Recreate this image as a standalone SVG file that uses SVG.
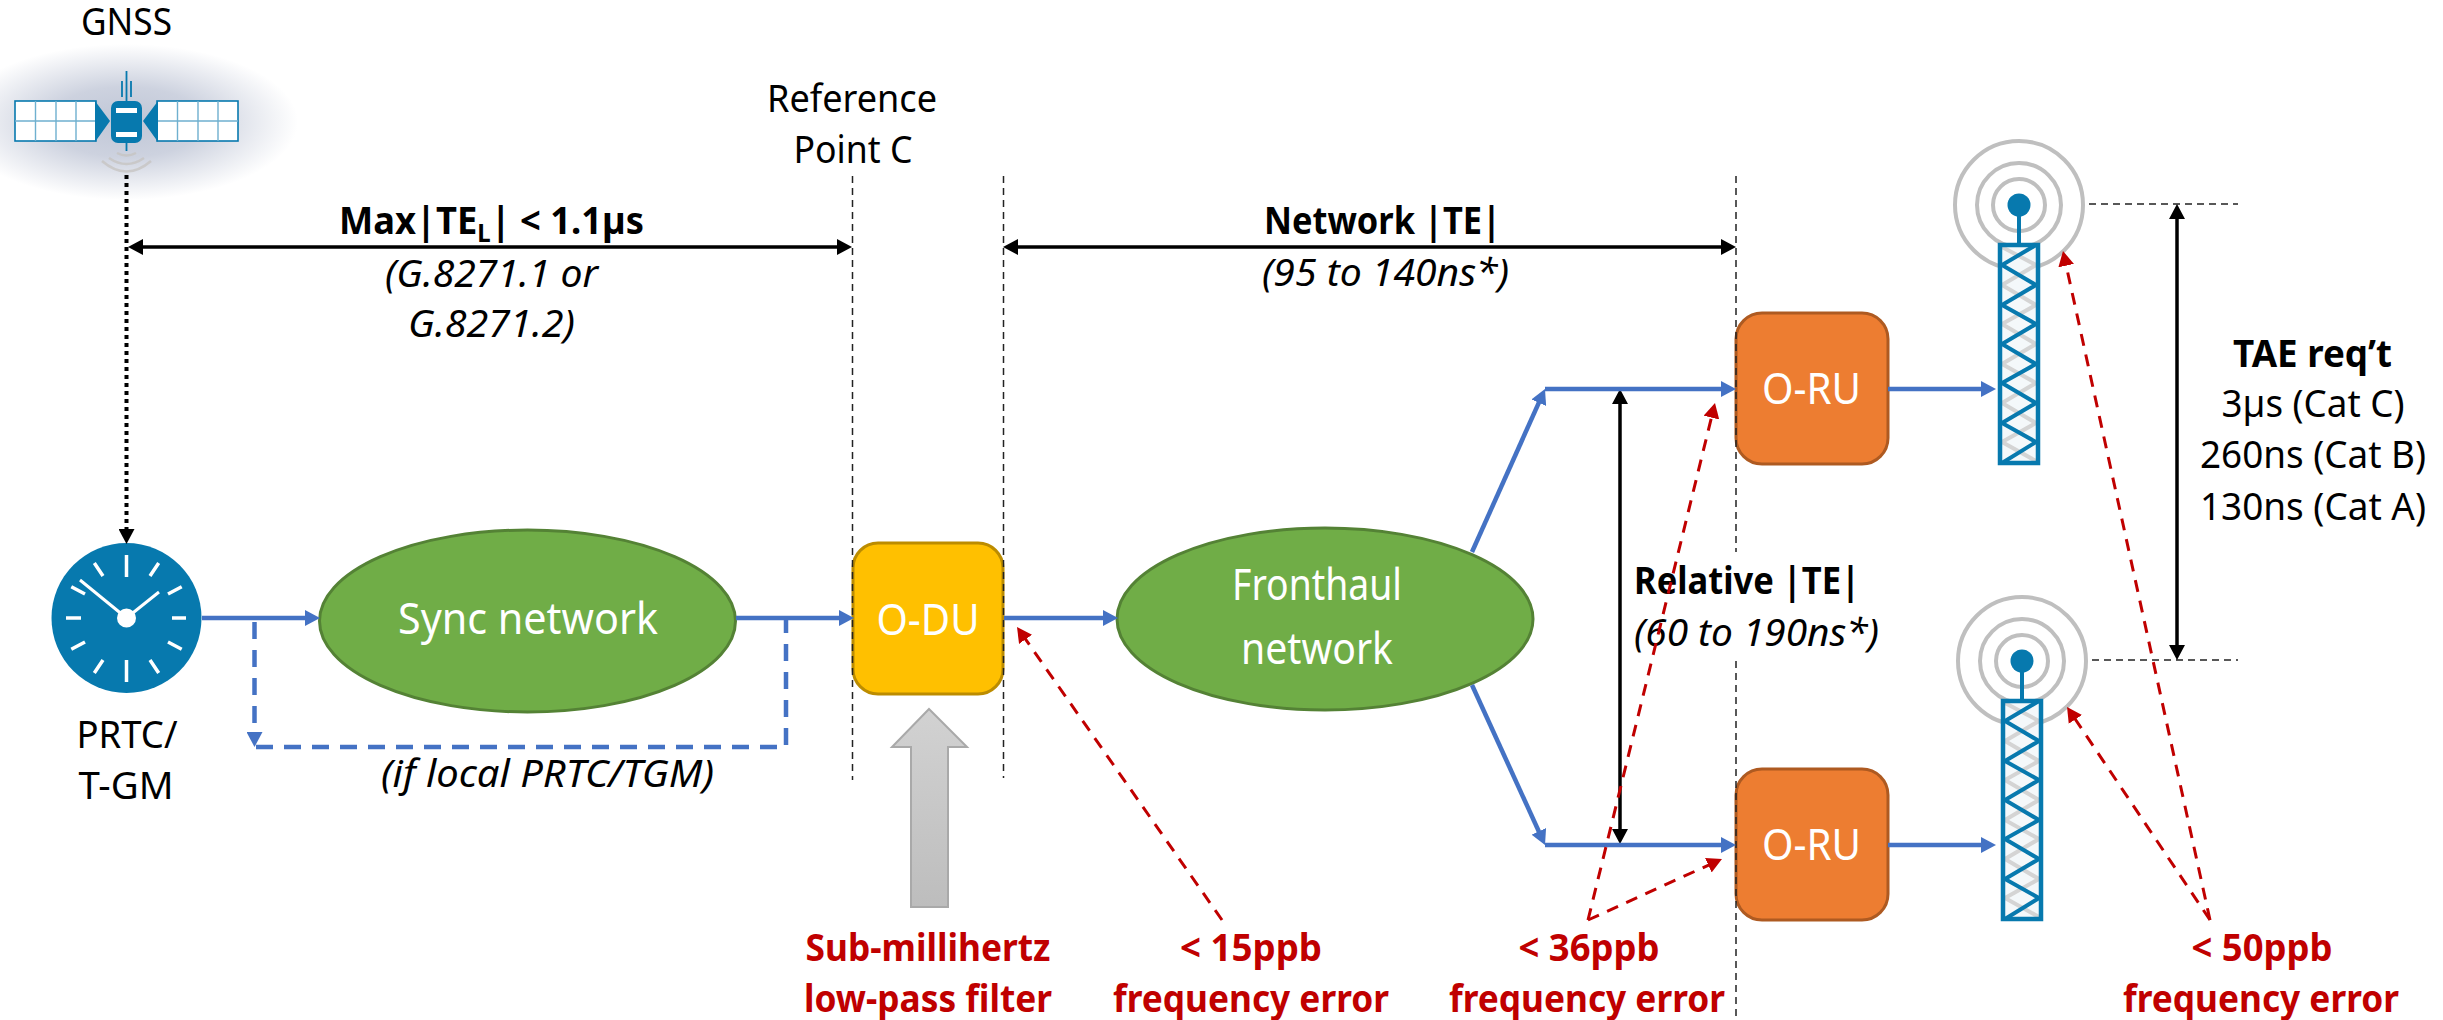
<svg xmlns="http://www.w3.org/2000/svg" xmlns:xlink="http://www.w3.org/1999/xlink" width="2443" height="1020" viewBox="0 0 2443 1020">
<style>
text{font-family:"Noto Sans","Open Sans",sans-serif;font-size:38px;fill:#000;text-anchor:middle}
.b{font-weight:700}
.i{font-style:italic}
.r{font-weight:700;fill:#C00000}
.w{fill:#fff;font-size:44px}
.blue{stroke:#4472C4;stroke-width:4.500;fill:none}
.blued{stroke:#4472C4;stroke-width:4.500;fill:none;stroke-dasharray:17 11}
.blk{stroke:#000;stroke-width:3.500;fill:none}
.guide{stroke:#222;stroke-width:1.500;fill:none;stroke-dasharray:7 5}
.red{stroke:#C00000;stroke-width:3;fill:none;stroke-dasharray:12 9}
.ring{fill:none;stroke:#BFBFBF;stroke-width:4}
.ic{stroke:#0779AE;fill:none}
.tick{stroke:#fff;stroke-width:3.500;fill:none}
.green{fill:#70AD47;stroke:#548235;stroke-width:3}
.orange{fill:#ED7D31;stroke:#AE5A21;stroke-width:3}
</style>
<defs>
<marker id="ab" markerUnits="userSpaceOnUse" markerWidth="16" markerHeight="16" refX="7" refY="8" orient="auto-start-reverse"><path d="M0,0 L15,8 L0,16Z" fill="#4472C4"/></marker>
<marker id="ak" markerUnits="userSpaceOnUse" markerWidth="16" markerHeight="16" refX="7" refY="8" orient="auto-start-reverse"><path d="M0,0 L15,8 L0,16Z" fill="#000"/></marker>
<marker id="ar" markerUnits="userSpaceOnUse" markerWidth="16" markerHeight="16" refX="7" refY="8" orient="auto-start-reverse"><path d="M0,0 L15,8 L0,16Z" fill="#C00000"/></marker>
<radialGradient id="glow"><stop offset="0" stop-color="#BFC6D6"/><stop offset=".45" stop-color="#CDD2DF"/><stop offset="1" stop-color="#fff"/></radialGradient>
<linearGradient id="grey" x1="0" y1="0" x2="0" y2="1"><stop offset="0" stop-color="#D2D2D2"/><stop offset="1" stop-color="#BDBDBD"/></linearGradient>
<g id="tower">
<circle class="ring" cx="19" cy="-40" r="64"/><circle class="ring" cx="19" cy="-40" r="42"/><circle class="ring" cx="19" cy="-40" r="26"/>
<rect x="2" y="2" width="34" height="214" fill="#F4F8FA"/>
<path d="M2,2 L36,20 L2,40 L36,60 L2,79 L36,99 L2,119 L36,138 L2,158 L36,178 L2,197 L36,216" fill="none" stroke="#D4D4D4" stroke-width="4"/>
<circle cx="19" cy="-40" r="11.500" fill="#0779AE"/>
<path class="ic" stroke-width="4" d="M19,-40 V0"/>
<path class="ic" stroke-width="4" d="M36,0 L2,20 L36,40 L2,60 L36,79 L2,99 L36,119 L2,138 L36,158 L2,178 L36,197 L2,218"/>
<rect class="ic" stroke-width="4.500" x="0" y="0" width="38" height="218"/>
</g>
</defs>
<rect width="2443" height="1020" fill="#fff"/>

<g id="gnss">
<ellipse cx="126" cy="122" rx="172" ry="78" fill="url(#glow)"/>
<g fill="#fff" stroke="#0779AE" stroke-width="1.600">
<rect x="15" y="101" width="81" height="40"/><rect x="157" y="101" width="81" height="40"/>
</g>
<path d="M15,121H96M35.500,101V141M56,101V141M76,101V141M157,121H238M177.500,101V141M198,101V141M218,101V141" stroke="#6FB0CF" stroke-width="1.400" fill="none"/>
<path d="M95,101 L110,121 L95,142Z M158,101 L143,121 L158,142Z" fill="#0779AE"/>
<path d="M126.500,71V101M122,81V97M131,81V97M126.500,141V151" class="ic" stroke-width="1.800"/>
<rect x="111" y="101" width="31" height="42" rx="7" fill="#0779AE"/>
<rect x="116" y="108" width="21" height="5" fill="#fff"/><rect x="116" y="132" width="21" height="5" fill="#fff"/>
<path d="M117,153 Q126.500,158 136,153 M109,158 Q126.500,170 144,158 M102,161 Q126.500,182 151,161" fill="none" stroke="#C6C3C0" stroke-width="2.500" opacity=".75"/>
<text x="126.500" y="35" textLength="91" lengthAdjust="spacingAndGlyphs">GNSS</text>
</g>

<g id="clock">
<circle cx="126.500" cy="618" r="75" fill="#0779AE"/>
<path class="tick" d="M126.500,555V577M126.500,660V682M66,618H81M172,618H186M150,576L158.700,563M103,576L94.300,563M168,594L181.700,586.700M85,594L71.300,586.700M168,642L181.700,649.300M85,642L71.300,649.300M150,660L158.700,673M103,660L94.300,673"/>
<path d="M126.500,618L80,580M126.500,618L159,592" stroke="#fff" stroke-width="3" fill="none"/>
<circle cx="126.500" cy="618" r="9.500" fill="#fff"/>
<text x="127" y="748" textLength="101" lengthAdjust="spacingAndGlyphs">PRTC/</text>
<text x="126" y="799" textLength="95" lengthAdjust="spacingAndGlyphs">T-GM</text>
</g>

<g id="sync-network">
<ellipse class="green" cx="527.500" cy="621" rx="208" ry="91"/>
<text class="w" x="528" y="634" textLength="260" lengthAdjust="spacingAndGlyphs">Sync network</text>
</g>

<g id="o-du">
<rect x="853" y="543" width="150" height="151" rx="25" fill="#FFC000" stroke="#BC8C00" stroke-width="3"/>
<text class="w" x="928" y="635" textLength="103" lengthAdjust="spacingAndGlyphs">O-DU</text>
</g>

<g id="filter-arrow">
<path d="M929,709 L967,747 H948 V907 H911 V747 H892Z" fill="url(#grey)" stroke="#A9A9A9" stroke-width="2"/>
</g>

<g id="fronthaul-network">
<ellipse class="green" cx="1325" cy="619" rx="208" ry="91"/>
<text class="w" x="1317" y="600" textLength="170" lengthAdjust="spacingAndGlyphs">Fronthaul</text>
<text class="w" x="1317" y="664" textLength="152" lengthAdjust="spacingAndGlyphs">network</text>
</g>

<g id="o-ru-1">
<rect class="orange" x="1736" y="313" width="152" height="151" rx="26"/>
<text class="w" x="1811.500" y="404" textLength="99" lengthAdjust="spacingAndGlyphs">O-RU</text>
</g>
<g id="o-ru-2">
<rect class="orange" x="1736" y="769" width="152" height="151" rx="26"/>
<text class="w" x="1811.500" y="860" textLength="99" lengthAdjust="spacingAndGlyphs">O-RU</text>
</g>

<g id="tower-1"><use href="#tower" x="2000" y="245"/></g>
<g id="tower-2"><use href="#tower" x="2003" y="701"/></g>

<g id="labels">
<text x="852" y="112" textLength="170" lengthAdjust="spacingAndGlyphs">Reference</text>
<text x="853" y="163" textLength="119" lengthAdjust="spacingAndGlyphs">Point C</text>
<text class="b" x="491.500" y="234" textLength="305" lengthAdjust="spacingAndGlyphs">Max|TE<tspan dy="8" font-size="25">L</tspan><tspan dy="-8">| &lt; 1.1µs</tspan></text>
<text class="i" x="491.500" y="287" textLength="213" lengthAdjust="spacingAndGlyphs">(G.8271.1 or</text>
<text class="i" x="491.500" y="337" textLength="167" lengthAdjust="spacingAndGlyphs">G.8271.2)</text>
<text class="b" x="1382.500" y="234" textLength="237" lengthAdjust="spacingAndGlyphs">Network |TE|</text>
<text class="i" x="1385.500" y="286" textLength="247" lengthAdjust="spacingAndGlyphs">(95 to 140ns*)</text>
<text class="i" x="547.500" y="787" textLength="333" lengthAdjust="spacingAndGlyphs">(if local PRTC/TGM)</text>
<text class="b" x="1747" y="594" textLength="226" lengthAdjust="spacingAndGlyphs">Relative |TE|</text>
<text class="i" x="1756.500" y="646" textLength="245" lengthAdjust="spacingAndGlyphs">(60 to 190ns*)</text>
<text class="b" x="2312.500" y="367" textLength="159" lengthAdjust="spacingAndGlyphs">TAE req’t</text>
<text x="2313" y="417" textLength="183" lengthAdjust="spacingAndGlyphs">3µs (Cat C)</text>
<text x="2313" y="468" textLength="226" lengthAdjust="spacingAndGlyphs">260ns (Cat B)</text>
<text x="2313" y="520" textLength="226" lengthAdjust="spacingAndGlyphs">130ns (Cat A)</text>
<text class="r" x="928" y="961" textLength="245" lengthAdjust="spacingAndGlyphs">Sub-millihertz</text>
<text class="r" x="928" y="1012" textLength="248" lengthAdjust="spacingAndGlyphs">low-pass filter</text>
<text class="r" x="1251" y="961" textLength="142" lengthAdjust="spacingAndGlyphs">&lt; 15ppb</text>
<text class="r" x="1251" y="1012" textLength="276" lengthAdjust="spacingAndGlyphs">frequency error</text>
<text class="r" x="1589" y="961" textLength="141" lengthAdjust="spacingAndGlyphs">&lt; 36ppb</text>
<text class="r" x="1587" y="1012" textLength="276" lengthAdjust="spacingAndGlyphs">frequency error</text>
<text class="r" x="2262" y="961" textLength="141" lengthAdjust="spacingAndGlyphs">&lt; 50ppb</text>
<text class="r" x="2261" y="1012" textLength="276" lengthAdjust="spacingAndGlyphs">frequency error</text>
</g>

<g id="connectors">
<path class="guide" d="M852.500,176V780M1003.500,176V778M1736,176V552M1736,661V1020"/>
<path class="guide" d="M2089,204H2238M2092,660H2238"/>
<path d="M126.500,175V536" stroke="#000" stroke-width="4" stroke-dasharray="4 4" fill="none" marker-end="url(#ak)"/>
<path class="blk" d="M136,247H844" marker-start="url(#ak)" marker-end="url(#ak)"/>
<path class="blk" d="M1011,247H1728" marker-start="url(#ak)" marker-end="url(#ak)"/>
<path class="blk" d="M1620,397V836" marker-start="url(#ak)" marker-end="url(#ak)"/>
<path class="blk" d="M2177,212V652" marker-start="url(#ak)" marker-end="url(#ak)"/>
<path class="blue" d="M202,618H312" marker-end="url(#ab)"/>
<path class="blue" d="M736,618H846" marker-end="url(#ab)"/>
<path class="blue" d="M1004,618H1110" marker-end="url(#ab)"/>
<path class="blue" d="M1472,552L1541.700,396.300" marker-end="url(#ab)"/>
<path class="blue" d="M1472,685L1541.700,837.700" marker-end="url(#ab)"/>
<path class="blue" d="M1545,389H1728" marker-end="url(#ab)"/>
<path class="blue" d="M1545,845H1728" marker-end="url(#ab)"/>
<path class="blue" d="M1888,389H1988" marker-end="url(#ab)"/>
<path class="blue" d="M1888,845H1988" marker-end="url(#ab)"/>
<path class="blued" d="M254.500,622V739" marker-end="url(#ab)"/>
<path class="blued" d="M256,747H786V620"/>
<path class="red" d="M1222,920L1021.600,633.600" marker-end="url(#ar)"/>
<path class="red" d="M1588,920L1713.100,410.800" marker-end="url(#ar)"/>
<path class="red" d="M1588,920L1714.700,862.300" marker-end="url(#ar)"/>
<path class="red" d="M2210,920L2064.700,258.800" marker-end="url(#ar)"/>
<path class="red" d="M2210,920L2071.500,713.600" marker-end="url(#ar)"/>
</g>
</svg>
